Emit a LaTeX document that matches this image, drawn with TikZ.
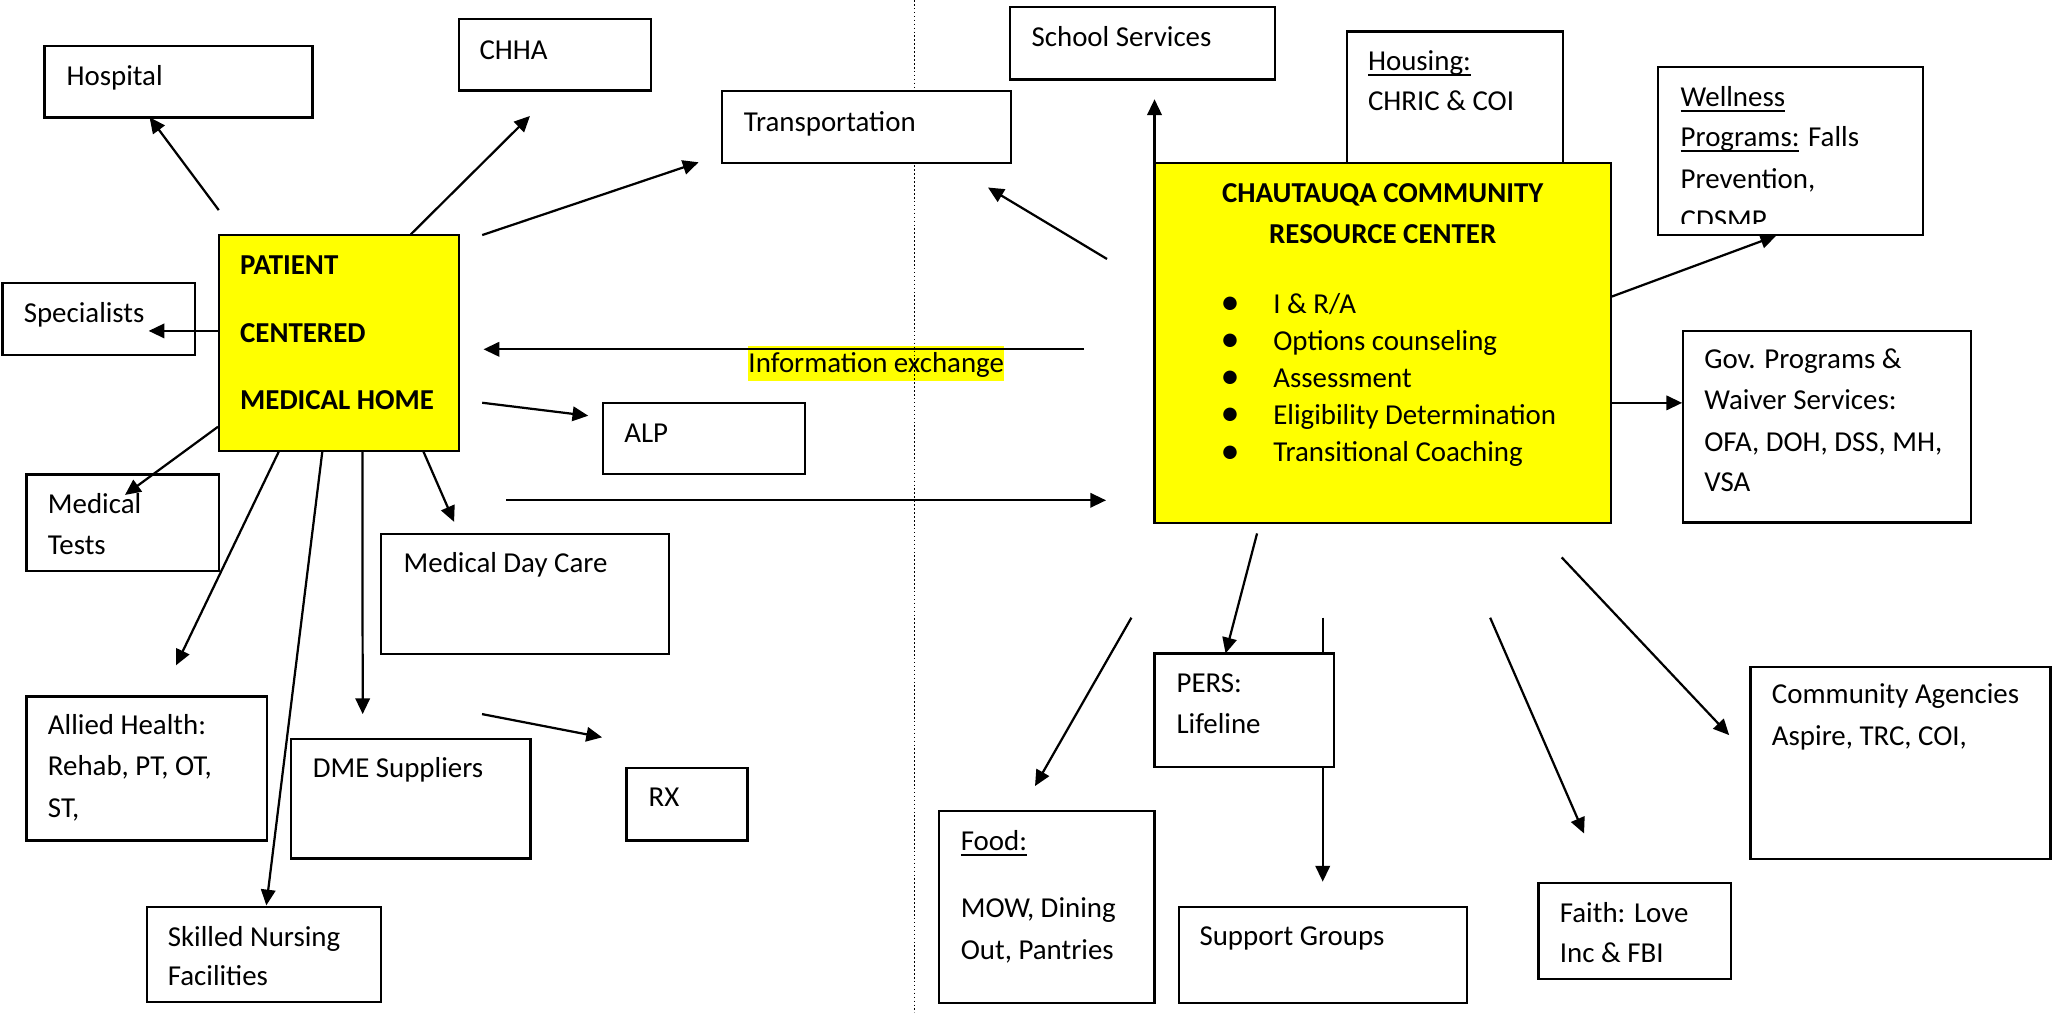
\documentclass[tikz,border=0pt]{standalone}
\usepackage{fontspec}
\setmainfont{Carlito}
\usetikzlibrary{arrows.meta,fit}
\definecolor{hiyellow}{RGB}{255,255,0}
\newlength\ulwd
\newcommand\myul[1]{\settowidth\ulwd{#1}\rlap{\rule[-2.1pt]{\ulwd}{0.7pt}}#1}
\begin{document}
\begin{tikzpicture}[x=0.5pt,y=-0.5pt,
  bx/.style={draw, line width=0.9pt, fill=white, inner sep=0pt},
  ybx/.style={bx, fill=hiyellow},
  txt/.style={anchor=base west, inner sep=0pt, font=\fontsize{11pt}{13pt}\selectfont},
  btxt/.style={txt, font=\fontsize{11pt}{13pt}\selectfont\bfseries},
  ctxt/.style={btxt, anchor=base},
  bul/.style={anchor=base, inner sep=0pt, font=\fontsize{14.5pt}{16pt}\selectfont},
  arr/.style={line width=0.85pt, -{Triangle[length=6pt,width=5.5pt]}},
  dotline/.style={line width=0.5pt, dash pattern=on 0.6pt off 0.9pt}]
\useasboundingbox (0,0) rectangle (1568,771);

% highlighted label and the dotted divider
\node[txt, fill=hiyellow, text height=10pt, text depth=3.5pt] (info) at (569.6,283.4) {Information exchange};
\coordinate (dotT) at (696.6,0);
\coordinate (dotB) at (696.6,771);
\draw[dotline] (dotT) -- (dotB);

% box hidden partly behind the yellow centre box
\node[bx, fit={(1025.8,23.9) (1190.3,140)}] (housing) {};

% arrow that passes under the PERS box
\coordinate (suppS) at (1007.3,470.4);
\coordinate (suppE) at (1007.3,671.4);
\draw[arr] (suppS) -- (suppE);

% boxes, left
\node[bx, fit={(34,34.8) (238,89.6)}] (hosp) {};
\node[bx, fit={(349.5,14.5) (495.7,69)}] (chha) {};
\node[bx, fit={(550,69.4) (770,124.2)}] (trans) {};
\node[bx, fit={(2,215.3) (148.6,270.4)}] (spec) {};
\node[ybx, fit={(166.6,179) (349.5,343.5)}] (pcmh) {};
\node[bx, fit={(459,306.7) (613,361)}] (alp) {};
\node[bx, fit={(20.2,361.3) (167,434.9)}] (medt) {};
\node[bx, fit={(289.9,406.7) (509.4,498)}] (mdc) {};
\node[bx, fit={(20.2,530.3) (203.2,640)}] (allied) {};
\node[bx, fit={(221.5,562.8) (404.1,653.9)}] (dme) {};
\node[bx, fit={(477.1,585) (569.2,640)}] (rx) {};
\node[bx, fit={(111.9,690.8) (289.9,763)}] (snf) {};

% boxes, right
\node[bx, fit={(769.2,5.4) (971,60.6)}] (school) {};
\node[ybx, fit={(879.2,124) (1227,398.5)}] (ccrc) {};
\node[bx, fit={(1262.7,50.9) (1464.5,179)}] (well) {};
\node[bx, fit={(1281.6,252) (1500.8,398)}] (gov) {};
\node[bx, fit={(1333.1,507.7) (1561.6,654)}] (comm) {};
\node[bx, fit={(879.2,497.6) (1016,583.9)}] (pers) {};
\node[bx, fit={(714.9,617.4) (879.2,763.6)}] (food) {};
\node[bx, fit={(897.9,690.5) (1117,763.6)}] (supp) {};
\node[bx, fit={(1171.7,672.2) (1318,745.6)}] (faith) {};

% texts, left
\node[txt] (hospT) at (50.3,65.3) {Hospital};
\node[txt] (chhaT) at (364.8,45) {CHHA};
\node[txt] (transT) at (566,99.9) {Transportation};
\node[txt] (specT) at (17.7,245.6) {Specialists};
\node[btxt] (pcmhA) at (182.5,209.3) {PATIENT};
\node[btxt] (pcmhB) at (182.5,260.6) {CENTERED};
\node[btxt] (pcmhC) at (182.5,311.6) {MEDICAL HOME};
\node[txt] (alpT) at (475,337) {ALP};
\node[txt] (medtA) at (36.1,391.1) {Medical};
\node[txt] (medtB) at (36.1,422.6) {Tests};
\node[txt] (mdcT) at (307,436.2) {Medical Day Care};
\node[txt] (alliedA) at (36.1,559.4) {Allied Health:};
\node[txt] (alliedB) at (36.1,590.8) {Rehab, PT, OT,};
\node[txt] (alliedC) at (36.1,622.2) {ST,};
\node[txt] (dmeT) at (237.8,592.1) {DME Suppliers};
\node[txt] (rxT) at (493.5,614) {RX};
\node[txt] (snfA) at (127.4,720.6) {Skilled Nursing};
\node[txt] (snfB) at (127.4,750.8) {Facilities};

% texts, right
\node[txt] (schoolT) at (785.2,35.4) {School Services};
\node[txt] (housA) at (1041.4,53.6) {\myul{Housing:}};
\node[txt] (housB) at (1041.4,84.4) {CHRIC \& COI};
\node[ctxt] (ccrcA) at (1053,154.3) {CHAUTAUQA COMMUNITY};
\node[ctxt] (ccrcB) at (1053,185.6) {RESOURCE CENTER};
\node[bul] (bul1) at (936.7,239.6) {•};
\node[bul] (bul2) at (936.7,267.85) {•};
\node[bul] (bul3) at (936.7,296.1) {•};
\node[bul] (bul4) at (936.7,324.35) {•};
\node[bul] (bul5) at (936.7,352.6) {•};
\node[txt] (item1) at (969.3,238.6) {I \& R/A};
\node[txt] (item2) at (969.3,266.85) {Options counseling};
\node[txt] (item3) at (969.3,295.1) {Assessment};
\node[txt] (item4) at (969.3,323.35) {Eligibility Determination};
\node[txt] (item5) at (969.3,351.6) {Transitional Coaching};
\begin{scope}
  \clip (1263,51) rectangle (1464,170.5);
  \node[txt] (wellA) at (1279.5,80.8) {\myul{Wellness}};
  \node[txt] (wellB) at (1279.5,111.6) {\myul{Programs:} Falls};
  \node[txt] (wellC) at (1279.5,143.4) {Prevention,};
  \node[txt] (wellD) at (1279.5,175.1) {CDSMP};
\end{scope}
\node[txt] (govA) at (1297.5,280.6) {Gov. Programs \&};
\node[txt] (govB) at (1297.5,312) {Waiver Services:};
\node[txt] (govC) at (1297.5,343.6) {OFA, DOH, DSS, MH,};
\node[txt] (govD) at (1297.5,374.6) {VSA};
\node[txt] (commA) at (1349,535.8) {Community Agencies};
\node[txt] (commB) at (1349,568) {Aspire, TRC, COI,};
\node[txt] (persA) at (895.6,527.4) {PERS:};
\node[txt] (persB) at (895.6,558.6) {Lifeline};
\node[txt] (foodA) at (731.3,647.9) {\myul{Food:}};
\node[txt] (foodB) at (731.3,698.7) {MOW, Dining};
\node[txt] (foodC) at (731.3,730.4) {Out, Pantries};
\node[txt] (suppT) at (913.1,720.3) {Support Groups};
\node[txt] (faithA) at (1187.5,702.5) {Faith: Love};
\node[txt] (faithB) at (1187.5,733) {Inc \& FBI};

% connector end points
\coordinate (hospS) at (166.6,160);   \coordinate (hospE) at (113.9,89.3);
\coordinate (chhaS) at (312.8,178.5); \coordinate (chhaE) at (403.6,88.3);
\coordinate (trLS) at (367.2,179);    \coordinate (trLE) at (532,123.6);
\coordinate (specS) at (166.6,252);   \coordinate (specE) at (113.2,252);
\coordinate (infoS) at (825.6,266);   \coordinate (infoE) at (368.2,266);
\coordinate (alpS) at (367.2,306.7);  \coordinate (alpE) at (448,316.6);
\coordinate (medtS) at (166,325);     \coordinate (medtE) at (95.2,376.9);
\coordinate (allS) at (212.5,343.5);  \coordinate (allE) at (134,506.7);
\coordinate (snfS) at (245.5,343.5);  \coordinate (snfE) at (202.8,689.5);
\coordinate (dmeS) at (276,343.5);    \coordinate (dmeE) at (276.2,543.8);
\coordinate (mdcS) at (322.3,343.5);  \coordinate (mdcE) at (345.8,397.4);
\coordinate (rxS) at (367.1,543.8);   \coordinate (rxE) at (458.5,561.5);
\coordinate (toS) at (385.4,381);     \coordinate (toE) at (842.3,381);
\coordinate (trRS) at (843,197.2);    \coordinate (trRE) at (752.4,142.8);
\coordinate (schS) at (879.2,185);    \coordinate (schE) at (879.2,75.6);
\coordinate (wellS) at (1227,226);    \coordinate (wellE) at (1352.6,179.5);
\coordinate (govS) at (1227,306.8);   \coordinate (govE) at (1281,306.8);
\coordinate (persS) at (957.3,406.2); \coordinate (persE) at (933.3,497.6);
\coordinate (foodS) at (861.6,470.4); \coordinate (foodE) at (788.2,598.6);
\coordinate (faithS) at (1134.8,470.4); \coordinate (faithE) at (1206.3,634.7);
\coordinate (commS) at (1189.3,424.5);  \coordinate (commE) at (1316.8,559.8);

\draw[arr] (hospS) -- (hospE);
\draw[arr] (chhaS) -- (chhaE);
\draw[arr] (trLS) -- (trLE);
\draw[arr] (specS) -- (specE);
\draw[arr] (infoS) -- (infoE);
\draw[arr] (alpS) -- (alpE);
\draw[arr] (medtS) -- (medtE);
\draw[arr] (allS) -- (allE);
\draw[arr] (snfS) -- (snfE);
\draw[arr] (dmeS) -- (dmeE);
\draw[arr] (mdcS) -- (mdcE);
\draw[arr] (rxS) -- (rxE);
\draw[arr] (toS) -- (toE);
\draw[arr] (trRS) -- (trRE);
\draw[arr] (schS) -- (schE);
\draw[arr] (wellS) -- (wellE);
\draw[arr] (govS) -- (govE);
\draw[arr] (persS) -- (persE);
\draw[arr] (foodS) -- (foodE);
\draw[arr] (faithS) -- (faithE);
\draw[arr] (commS) -- (commE);
\end{tikzpicture}
\end{document}
